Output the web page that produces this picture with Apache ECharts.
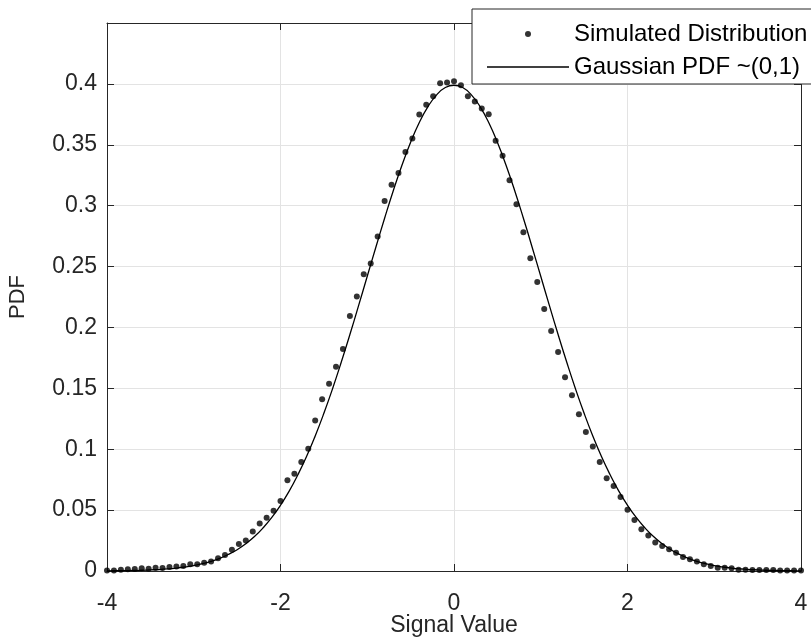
<!DOCTYPE html>
<html>
<head>
<meta charset="utf-8">
<script src="https://cdn.jsdelivr.net/npm/echarts@6/dist/echarts.min.js"></script>
<style>
html,body{margin:0;padding:0;background:#fff;}
#chart{width:811px;height:641px;}
</style>
</head>
<body>
<div id="chart"></div>
<script>
// Simulated distribution: bin centres and estimated PDF values
const simX = [-4.00,-3.92,-3.84,-3.76,-3.68,-3.60,-3.52,-3.44,-3.36,-3.28,-3.20,-3.12,-3.04,-2.96,-2.88,-2.80,-2.72,-2.64,-2.56,-2.48,-2.40,-2.32,-2.24,-2.16,-2.08,-2.00,-1.92,-1.84,-1.76,-1.68,-1.60,-1.52,-1.44,-1.36,-1.28,-1.20,-1.12,-1.04,-0.96,-0.88,-0.80,-0.72,-0.64,-0.56,-0.48,-0.40,-0.32,-0.24,-0.16,-0.08,0.00,0.08,0.16,0.24,0.32,0.40,0.48,0.56,0.64,0.72,0.80,0.88,0.96,1.04,1.12,1.20,1.28,1.36,1.44,1.52,1.60,1.68,1.76,1.84,1.92,2.00,2.08,2.16,2.24,2.32,2.40,2.48,2.56,2.64,2.72,2.80,2.88,2.96,3.04,3.12,3.20,3.28,3.36,3.44,3.52,3.60,3.68,3.76,3.84,3.92,4.00];
const simY = [0.0005,0.0005,0.0011,0.0014,0.0016,0.0022,0.0019,0.0027,0.0025,0.0033,0.0036,0.0041,0.0055,0.0055,0.0068,0.0079,0.0104,0.0131,0.0175,0.0221,0.0251,0.0325,0.0391,0.0437,0.0495,0.0574,0.0746,0.0798,0.0896,0.1003,0.1235,0.1410,0.1538,0.1678,0.1822,0.2093,0.2254,0.2437,0.2525,0.2746,0.3038,0.3172,0.3268,0.3440,0.3552,0.3749,0.3828,0.3899,0.4005,0.4011,0.4022,0.3989,0.3899,0.3855,0.3798,0.3751,0.3533,0.3410,0.3208,0.3011,0.2781,0.2568,0.2374,0.2152,0.1970,0.1798,0.1590,0.1443,0.1287,0.1142,0.1022,0.0896,0.0762,0.0697,0.0607,0.0503,0.0418,0.0342,0.0292,0.0235,0.0205,0.0178,0.0150,0.0115,0.0096,0.0079,0.0055,0.0041,0.0027,0.0027,0.0022,0.0011,0.0011,0.0008,0.0008,0.0008,0.0008,0.0005,0.0005,0.0005,0.0005];

// Gaussian PDF curve
const gaussX = [-4.0,-3.9,-3.8,-3.7,-3.6,-3.5,-3.4,-3.3,-3.2,-3.1,-3.0,-2.9,-2.8,-2.7,-2.6,-2.5,-2.4,-2.3,-2.2,-2.1,-2.0,-1.9,-1.8,-1.7,-1.6,-1.5,-1.4,-1.3,-1.2,-1.1,-1.0,-0.9,-0.8,-0.7,-0.6,-0.5,-0.4,-0.3,-0.2,-0.1,0.0,0.1,0.2,0.3,0.4,0.5,0.6,0.7,0.8,0.9,1.0,1.1,1.2,1.3,1.4,1.5,1.6,1.7,1.8,1.9,2.0,2.1,2.2,2.3,2.4,2.5,2.6,2.7,2.8,2.9,3.0,3.1,3.2,3.3,3.4,3.5,3.6,3.7,3.8,3.9,4.0];
const gaussY = [0.0001,0.0002,0.0003,0.0004,0.0006,0.0009,0.0012,0.0017,0.0024,0.0033,0.0044,0.0060,0.0079,0.0104,0.0136,0.0175,0.0224,0.0283,0.0355,0.0440,0.0540,0.0656,0.0790,0.0940,0.1109,0.1295,0.1497,0.1714,0.1942,0.2179,0.2420,0.2661,0.2897,0.3123,0.3332,0.3521,0.3683,0.3814,0.3910,0.3970,0.3989,0.3970,0.3910,0.3814,0.3683,0.3521,0.3332,0.3123,0.2897,0.2661,0.2420,0.2179,0.1942,0.1714,0.1497,0.1295,0.1109,0.0940,0.0790,0.0656,0.0540,0.0440,0.0355,0.0283,0.0224,0.0175,0.0136,0.0104,0.0079,0.0060,0.0044,0.0033,0.0024,0.0017,0.0012,0.0009,0.0006,0.0004,0.0003,0.0002,0.0001];

const seriesNames = ['Simulated Distribution', 'Gaussian PDF ~(0,1)'];
const xAxisName = 'Signal Value';
const yAxisName = 'PDF';

const FONT = '"Liberation Sans", Arial, Helvetica, sans-serif';
const AX = '#262626';
const GRID = '#e3e3e3';

const chart = echarts.init(document.getElementById('chart'), null, {renderer: 'canvas'});

const simData = simX.map((x, i) => [x, simY[i]]);
const gaussData = gaussX.map((x, i) => [x, gaussY[i]]);

const axisCommon = {
  axisLine: {show: true, onZero: false, lineStyle: {color: AX, width: 1}},
  axisTick: {show: true, inside: true, length: 7, lineStyle: {color: AX, width: 1}}
};

chart.setOption({
  animation: false,
  backgroundColor: '#fff',
  textStyle: {fontFamily: FONT},
  grid: {left: 107, right: 10, top: 23, bottom: 70, containLabel: false, outerBoundsMode: 'none'},
  legend: {
    orient: 'vertical',
    left: 472, top: 9,
    padding: [13, 12, 5, 15],
    itemGap: 9,
    itemWidth: 82, itemHeight: 6,
    backgroundColor: '#fff',
    borderColor: AX, borderWidth: 1, borderRadius: 0,
    textStyle: {fontSize: 24, color: '#000', fontFamily: FONT},
    data: [
      {name: seriesNames[0], icon: 'circle', itemStyle: {color: '#000'}},
      {name: seriesNames[1], icon: 'path://M0,0 L80,0 L80,1.3 L0,1.3 Z', itemStyle: {color: '#000'}}
    ]
  },
  xAxis: [{
    type: 'value', min: -4, max: 4, interval: 2,
    name: xAxisName, nameLocation: 'middle', nameGap: 43, nameMoveOverlap: false,
    nameTextStyle: {fontSize: 23, color: AX, fontFamily: FONT},
    axisLabel: {fontSize: 23, color: AX, margin: 21, fontFamily: FONT},
    splitLine: {show: true, lineStyle: {color: GRID, width: 1}},
    ...axisCommon
  }, {
    type: 'value', min: -4, max: 4, interval: 2, position: 'top',
    axisLabel: {show: false}, splitLine: {show: false},
    ...axisCommon
  }],
  yAxis: [{
    type: 'value', min: 0, max: 0.45, interval: 0.05,
    name: yAxisName, nameLocation: 'middle', nameGap: 78, nameRotate: 90, nameMoveOverlap: false,
    nameTextStyle: {fontSize: 22, color: AX, fontFamily: FONT},
    axisLabel: {fontSize: 23, color: AX, margin: 10, fontFamily: FONT,
      formatter: v => (Math.abs(v - 0.45) < 1e-9 ? '' : String(Math.round(v * 100) / 100))},
    splitLine: {show: true, lineStyle: {color: GRID, width: 1}},
    ...axisCommon
  }, {
    type: 'value', min: 0, max: 0.45, interval: 0.05, position: 'right',
    axisLabel: {show: false}, splitLine: {show: false},
    ...axisCommon
  }],
  series: [{
    name: seriesNames[0],
    type: 'scatter',
    data: simData,
    symbol: 'circle',
    symbolSize: 6,
    clip: false,
    itemStyle: {color: '#000'},
    z: 3
  }, {
    name: seriesNames[1],
    type: 'line',
    data: gaussData,
    smooth: true,
    symbol: 'none',
    showSymbol: false,
    lineStyle: {color: '#000', width: 1.3},
    itemStyle: {color: '#000'},
    z: 2
  }]
});
</script>
</body>
</html>
